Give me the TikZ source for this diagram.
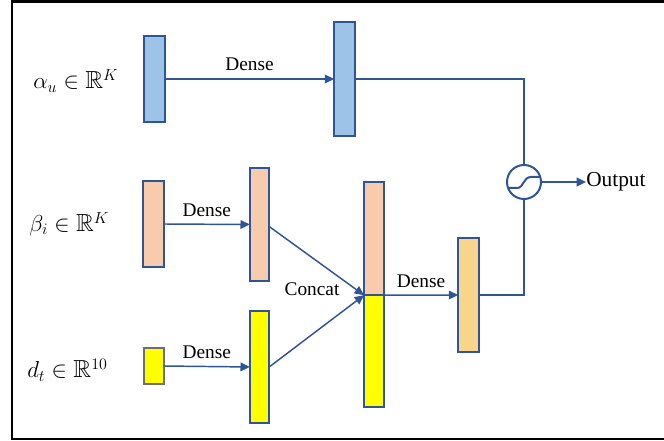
\documentclass[tikz,border=0pt]{standalone}
\usepackage{fontspec}
\setmainfont{Liberation Serif}
\usepackage{amssymb}
\usetikzlibrary{arrows.meta}
\definecolor{bord}{HTML}{2F5597}
\definecolor{blu}{HTML}{9DC3E6}
\definecolor{pch}{HTML}{F8CBAD}
\definecolor{ylw}{HTML}{FFFF00}
\definecolor{org}{HTML}{F9D58C}
\definecolor{gbord}{HTML}{6E6E6E}
\tikzset{
  layer/.style={draw=bord, line width=1.5pt, inner sep=0pt, outer sep=0pt, minimum width=15.5pt},
  conn/.style={draw=bord, line width=1.1pt},
  arr/.style={conn, -{Triangle[length=7pt,width=6.5pt]}},
  lbl/.style={font=\fontsize{14.5}{16}\selectfont, inner sep=0pt},
  mlbl/.style={font=\fontsize{18.5}{22}\selectfont, inner sep=0pt, anchor=west},
}
\begin{document}
\begin{tikzpicture}[x=0.75pt,y=-0.75pt]
\useasboundingbox (0,0) rectangle (664,441);
\fill[white] (0,0) rectangle (664,441);
\draw[line width=2pt] (12,1.5) rectangle (680,439);

% input labels
\node[mlbl] (la) at (33,81) {$\alpha_u \in \mathbb{R}^K$};
\node[mlbl] (lb) at (29,224) {$\beta_i \in \mathbb{R}^K$};
\node[mlbl] (ld) at (27,370) {$d_t \in \mathbb{R}^{10}$};

% layers
\node[layer, fill=blu, minimum height=64.5pt] (a1) at (154.5,79) {};
\node[layer, fill=blu, minimum height=85.5pt] (a2) at (344.5,79) {};
\node[layer, fill=pch, minimum height=64.5pt] (b1) at (153.5,224) {};
\node[layer, fill=pch, minimum height=85pt, minimum width=14.5pt] (b2) at (259.5,224.5) {};
\node[layer, fill=ylw, draw=gbord, minimum height=27pt, minimum width=14.5pt] (d1) at (154,366) {};
\node[layer, fill=ylw, minimum height=84pt, minimum width=14.5pt] (d2) at (259.5,367) {};
\node[layer, fill=pch, minimum height=85pt, minimum width=15pt] (c1) at (374,238.5) {};
\node[layer, fill=ylw, minimum height=84pt, minimum width=15pt, anchor=north] (c2) at (c1.south) {};
\node[layer, fill=org, minimum height=85.5pt] (o1) at (468.5,295) {};
\node[draw=bord, line width=1.5pt, circle, minimum size=25.5pt, inner sep=0pt, fill=white] (sg) at (524,182) {};
\draw[bord, line width=1.5pt, shift={(sg.center)}] (-16.5,6) -- (-7,6) .. controls (0,6) and (-1,-5) .. (7,-5) -- (16.5,-5);
\node[lbl, anchor=west, font=\fontsize{16}{18}\selectfont] (out) at (586,182) {Output};

% connectors
\draw[arr] (a1.east) -- node[lbl, above=6pt] (t1) {Dense} (a2.west);
\draw[conn] (a2.east) -| (sg.north);
\draw[arr] (b1.east) -- node[lbl, above=5pt] (t2) {Dense} (b2.west);
\draw[arr] (d1.east) -- node[lbl, above=5pt] (t3) {Dense} (d2.west);
\draw[arr] ([yshift=-1.5pt]b2.east) -- (c1.south west);
\draw[arr] (d2.east) -- (c1.south west);
\node[lbl] (tc) at (312,289) {Concat};
\draw[arr] (c1.south east) -- node[lbl, above=5pt] (t4) {Dense} (o1.west);
\draw[conn] (o1.east) -| (sg.south);
\draw[arr] (sg.east) -- (out.west);
\end{tikzpicture}
\end{document}
